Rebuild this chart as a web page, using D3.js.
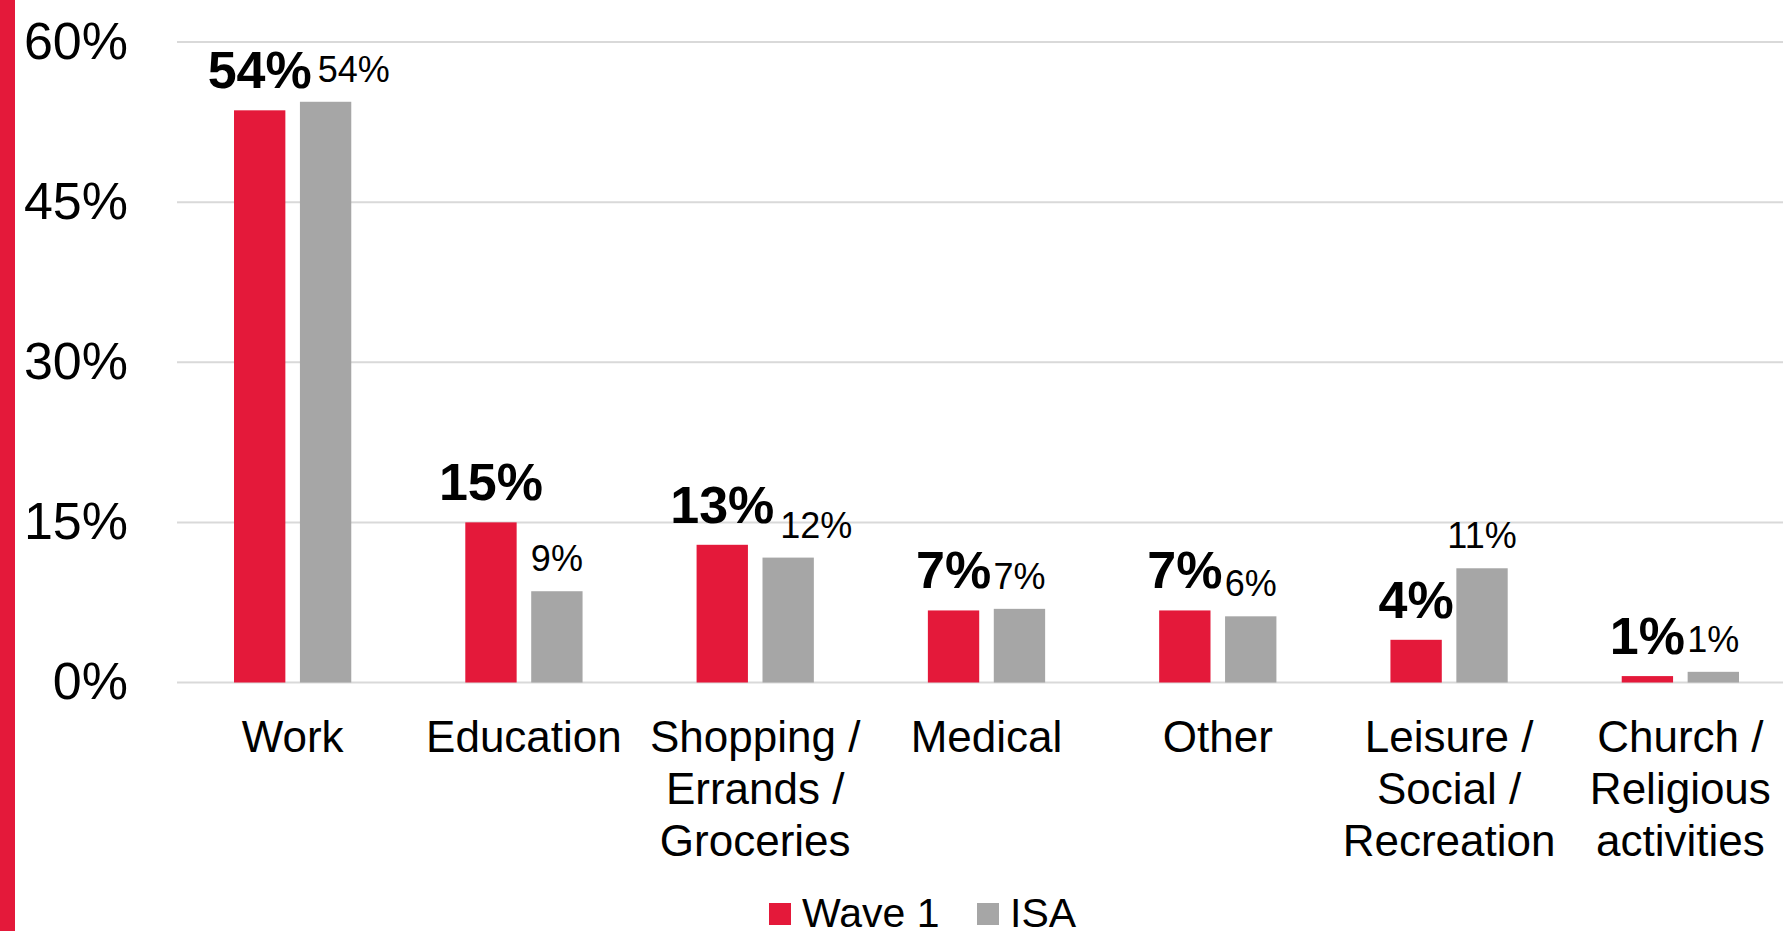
<!DOCTYPE html>
<html>
<head>
<meta charset="utf-8">
<script src="https://cdn.jsdelivr.net/npm/d3@7"></script>
<style>
  html, body { margin: 0; padding: 0; background: #fff; }
  svg { display: block; font-family: "Liberation Sans", Arial, Helvetica, sans-serif; }
</style>
</head>
<body>
<svg id="chart" width="1783" height="931"></svg>
<script>
// Trip purpose shares, Wave 1 vs ISA
const categories = [
  "Work",
  "Education",
  "Shopping /\nErrands /\nGroceries",
  "Medical",
  "Other",
  "Leisure /\nSocial /\nRecreation",
  "Church /\nReligious\nactivities"
];
const seriesNames = ["Wave 1", "ISA"];
const wave1 = [0.536, 0.150, 0.129, 0.0675, 0.0675, 0.040, 0.006];
const isa   = [0.544, 0.0855, 0.117, 0.069, 0.062, 0.107, 0.010];
const yTicks = [0, 0.15, 0.30, 0.45, 0.60];

const RED = "#E4193A";
const GRAY = "#A6A6A6";
const GRID = "#D9D9D9";

const svg = d3.select("#chart");
const W = 1783, H = 931;

// accent stripe on the left edge
svg.append("rect").attr("x", 0).attr("y", 0).attr("width", 15).attr("height", H).attr("fill", RED);

const plotLeft = 177, plotRight = 1796;
const y0 = 682.5, yTop = 42;

const x = d3.scaleBand().domain(categories).range([plotLeft, plotRight]).paddingInner(0).paddingOuter(0);
const y = d3.scaleLinear().domain([0, 0.6]).range([y0, yTop]);

const band = x.bandwidth();
const barW = band * 0.222;
const gap = band * 0.063;

// gridlines
svg.append("g").selectAll("line").data(yTicks).join("line")
  .attr("x1", plotLeft).attr("x2", W)
  .attr("y1", d => y(d)).attr("y2", d => y(d))
  .attr("stroke", GRID).attr("stroke-width", 2);

// y axis labels
const yAxis = d3.axisLeft(y).tickValues(yTicks).tickFormat(d3.format(".0%")).tickSize(0).tickPadding(0);
const yg = svg.append("g").attr("transform", "translate(128,0)").call(yAxis);
yg.select(".domain").remove();
yg.selectAll("text")
  .attr("font-size", 52)
  .attr("fill", "#000")
  .attr("font-family", "Liberation Sans, Arial, sans-serif")
  .attr("dy", null)
  .attr("y", -2)
  .attr("dominant-baseline", "central");

const pct = d3.format(".0%");
const rows = categories.map((c, i) => ({ c, w: wave1[i], s: isa[i] }));

// bars
const groups = svg.append("g").selectAll("g").data(rows).join("g")
  .attr("transform", d => `translate(${x(d.c) + band / 2},0)`);

groups.append("rect")
  .attr("x", -gap / 2 - barW).attr("width", barW)
  .attr("y", d => y(d.w)).attr("height", d => y0 - y(d.w))
  .attr("fill", RED);

groups.append("rect")
  .attr("x", gap / 2).attr("width", barW)
  .attr("y", d => y(d.s)).attr("height", d => y0 - y(d.s))
  .attr("fill", GRAY);

// value labels
const redLab = groups.append("text")
  .attr("x", -gap / 2 - barW / 2)
  .attr("y", d => y(d.w) - 22)
  .attr("text-anchor", "middle")
  .attr("font-size", 52).attr("font-weight", "bold").attr("fill", "#000")
  .text(d => pct(d.w));

const grayLab = groups.append("text")
  .attr("x", gap / 2 + barW / 2)
  .attr("y", d => y(d.s) - 20)
  .attr("text-anchor", "middle")
  .attr("font-size", 36).attr("fill", "#000")
  .text(d => pct(d.s));

// keep the two labels of a pair from running into each other
groups.each(function () {
  const g = d3.select(this);
  const a = g.select("text:nth-of-type(1)").node();
  const b = g.select("text:nth-of-type(2)").node();
  const ba = a.getBBox(), bb = b.getBBox();
  const vOverlap = !(ba.y + ba.height < bb.y || bb.y + bb.height < ba.y);
  const overlap = (ba.x + ba.width) - bb.x;
  if (vOverlap && overlap > 0) {
    const cx = +d3.select(b).attr("x");
    d3.select(b).attr("x", cx + overlap + 6);
  }
});

// category labels
const xg = svg.append("g");
categories.forEach(c => {
  const lines = c.split("\n");
  const t = xg.append("text")
    .attr("text-anchor", "middle")
    .attr("font-size", 44).attr("fill", "#000")
    .attr("x", x(c) + band / 2).attr("y", 752);
  lines.forEach((ln, k) => {
    t.append("tspan").attr("x", x(c) + band / 2).attr("y", 752 + k * 52).text(ln);
  });
});

// legend
const legend = svg.append("g");
const legItems = [
  { name: seriesNames[0], color: RED, x: 769 },
  { name: seriesNames[1], color: GRAY, x: 977 }
];
legItems.forEach(it => {
  legend.append("rect").attr("x", it.x).attr("y", 903).attr("width", 22).attr("height", 22).attr("fill", it.color);
  legend.append("text").attr("x", it.x + 33).attr("y", 927)
    .attr("font-size", 41).attr("fill", "#000").text(it.name);
});
</script>
</body>
</html>
